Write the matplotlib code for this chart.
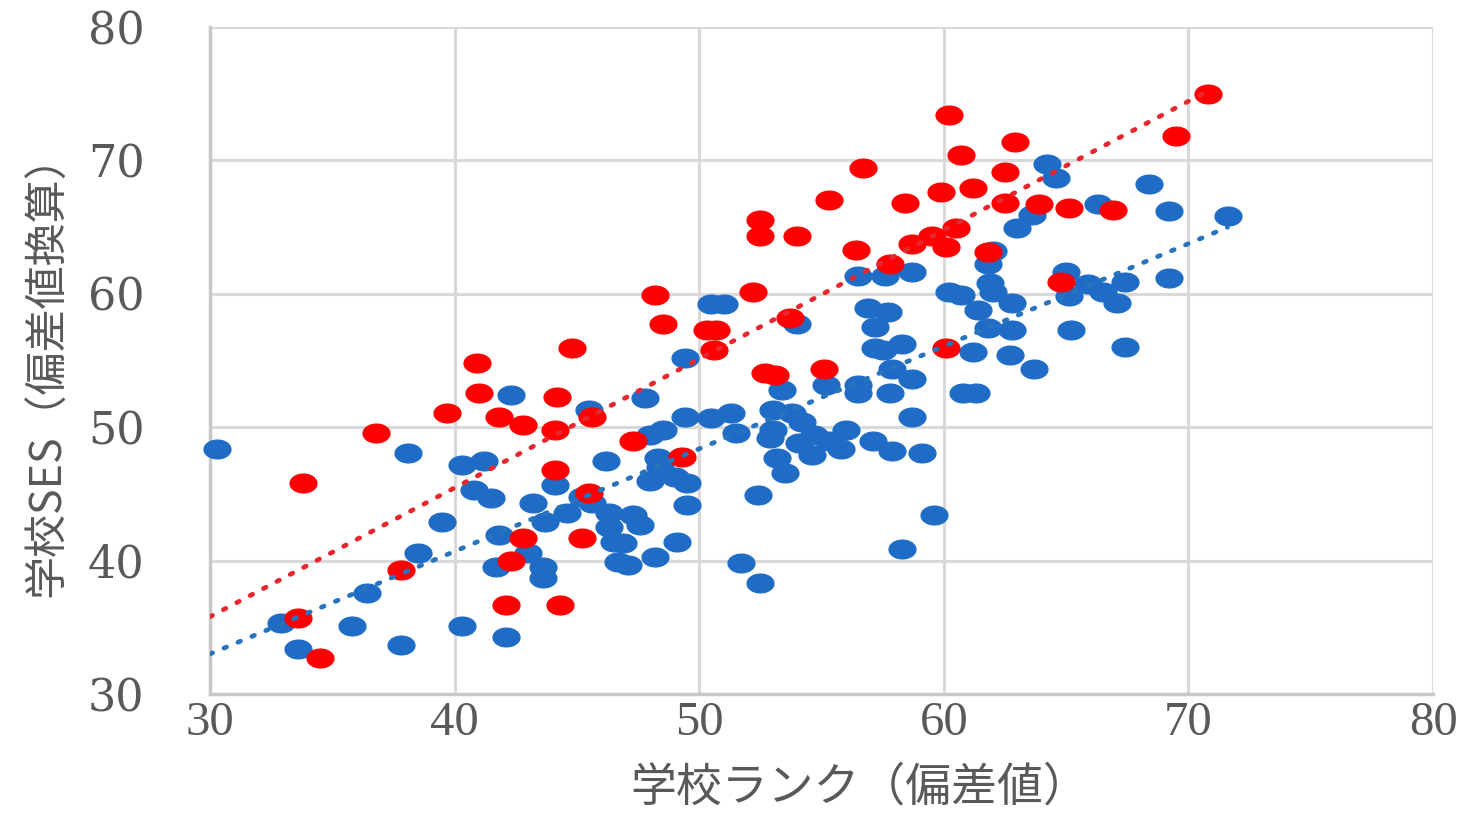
import numpy as np
import matplotlib
matplotlib.use("Agg")
import matplotlib.pyplot as plt
from matplotlib.path import Path

# ---- data ----
red_x = [70.8, 69.5, 60.2, 62.9, 60.7, 56.7, 62.5, 61.2, 59.9, 55.3, 58.4, 62.5, 63.9, 65.1, 66.9,
         60.5, 52.5, 52.5, 54.0, 56.4, 58.7, 59.5, 60.1, 61.8, 57.8, 64.8, 48.2, 52.2, 48.5, 50.3,
         50.7, 50.6, 53.7, 52.7, 53.1, 55.1, 60.1, 44.8, 40.9, 41.0, 44.2, 39.7, 41.8, 42.8, 45.6,
         44.1, 36.8, 47.3, 49.3, 44.1, 45.5, 42.8, 45.2, 42.3, 37.8, 33.8, 33.6, 34.5, 42.1, 44.3]
red_y = [75.0, 71.8, 73.4, 71.4, 70.4, 69.4, 69.1, 67.9, 67.6, 67.0, 66.8, 66.8, 66.7, 66.4, 66.3,
         64.9, 65.5, 64.3, 64.3, 63.3, 63.7, 64.3, 63.5, 63.1, 62.2, 60.9, 59.9, 60.1, 57.7, 57.3,
         57.3, 55.8, 58.2, 54.1, 53.9, 54.4, 55.9, 55.9, 54.8, 52.6, 52.3, 51.1, 50.8, 50.2, 50.8,
         49.8, 49.6, 49.0, 47.8, 46.8, 45.1, 41.7, 41.7, 40.0, 39.3, 45.8, 35.7, 32.7, 36.7, 36.7]

blue_x = [64.2, 64.6, 68.4, 69.2, 71.6, 66.3, 63.6, 63.0, 65.0, 65.9, 66.5, 67.4, 69.2, 65.1, 67.1,
          62.8, 65.2, 62.8, 67.4, 62.7, 63.7, 62.0, 61.8, 61.9, 62.0, 60.2, 60.7, 61.4, 61.8, 61.2,
          60.8, 61.3, 56.5, 57.6, 58.7, 56.9, 57.7, 57.2, 57.2, 57.5, 58.3, 57.9, 58.7, 56.5, 56.5,
          57.8, 58.7, 55.2, 53.4, 54.0, 50.5, 51.0, 49.4, 53.0, 53.8, 54.2, 53.0, 52.9, 54.7, 54.1,
          54.6, 53.2, 53.5, 55.3, 56.0, 55.8, 57.1, 57.9, 59.1, 52.4, 51.3, 50.5, 51.5, 49.4, 47.8,
          48.5, 48.0, 59.6, 58.3, 51.7, 52.5, 45.5, 42.3, 46.2, 48.3, 48.4, 49.0, 48.0, 49.5, 49.5,
          46.3, 47.3, 47.6, 46.3, 46.5, 46.9, 49.1, 48.2, 46.7, 47.1, 44.1, 45.2, 45.6, 44.6, 43.2,
          43.7, 40.8, 41.5, 40.3, 41.2, 39.5, 41.8, 43.0, 41.7, 43.6, 43.6, 38.1, 38.5, 30.3, 36.4,
          32.9, 33.6, 35.8, 37.8, 40.3, 42.1]
blue_y = [69.7, 68.7, 68.2, 66.2, 65.8, 66.7, 65.9, 64.9, 61.6, 60.7, 60.1, 60.9, 61.2, 59.8, 59.3,
          59.3, 57.3, 57.3, 56.0, 55.4, 54.4, 63.2, 62.2, 60.8, 60.1, 60.1, 59.9, 58.8, 57.4, 55.6,
          52.6, 52.6, 61.3, 61.3, 61.6, 58.9, 58.6, 57.5, 55.9, 55.8, 56.2, 54.4, 53.6, 53.2, 52.6,
          52.6, 50.8, 53.2, 52.8, 57.7, 59.2, 59.2, 55.2, 51.3, 51.1, 50.4, 49.8, 49.2, 49.4, 48.8,
          47.9, 47.7, 46.6, 49.0, 49.8, 48.4, 49.0, 48.2, 48.1, 44.9, 51.1, 50.7, 49.6, 50.8, 52.2,
          49.8, 49.4, 43.4, 40.9, 39.8, 38.3, 51.3, 52.4, 47.5, 47.7, 47.0, 46.3, 46.0, 45.8, 44.2,
          43.6, 43.4, 42.7, 42.5, 41.4, 41.3, 41.4, 40.3, 39.9, 39.7, 45.7, 44.8, 44.3, 43.6, 44.3,
          42.9, 45.3, 44.7, 47.2, 47.5, 42.9, 41.9, 40.6, 39.5, 39.5, 38.7, 48.1, 40.6, 48.4, 37.6,
          35.3, 33.4, 35.1, 33.7, 35.1, 34.3]

x_ticks = [30, 40, 50, 60, 70, 80]
y_ticks = [30, 40, 50, 60, 70, 80]
x_label = "学校ランク（偏差値）"
y_label = "学校SES（偏差値換算）"

RED = "#FF0000"
BLUE = "#1E6CC6"
RED_TREND = "#E8262E"
BLUE_TREND = "#2874BC"
TXT = "#595959"
GRID = "#D9D9D9"

# elliptical marker (wider than tall)
t = np.linspace(0, 2 * np.pi, 64)
ell = Path(np.column_stack([np.cos(t) * 1.0, np.sin(t) * 0.70]), closed=True)

fig = plt.figure(figsize=(14.62, 8.22), dpi=100)
ax = fig.add_axes([210 / 1462, 1 - 694 / 822, (1433 - 210) / 1462, (694 - 27) / 822])
ax.set_xlim(30, 80)
ax.set_ylim(30, 80)
ax.set_xticks(x_ticks)
ax.set_yticks(y_ticks)
ax.grid(True, color=GRID, linewidth=2.2, zorder=0)
ax.set_axisbelow(True)
for side in ["top", "right"]:
    ax.spines[side].set_visible(False)
for side in ["left", "bottom"]:
    ax.spines[side].set_color("#C8C8C8")
    ax.spines[side].set_linewidth(2.5)
ax.tick_params(length=0)
ax.tick_params(axis="y", pad=47)
ax.tick_params(axis="x", pad=5)
for lab in ax.get_yticklabels():
    lab.set_fontfamily("DejaVu Serif")
    lab.set_fontsize(32)
    lab.set_color(TXT)
for lab in ax.get_xticklabels():
    lab.set_fontfamily("Liberation Serif")
    lab.set_fontsize(35)
    lab.set_color(TXT)

ax.plot(blue_x, blue_y, linestyle="none", marker=ell, markersize=19.5,
        markerfacecolor=BLUE, markeredgecolor=BLUE, markeredgewidth=0.8, zorder=3, clip_on=False)
ax.plot(red_x, red_y, linestyle="none", marker=ell, markersize=19.5,
        markerfacecolor=RED, markeredgecolor=RED, markeredgewidth=0.8, zorder=4, clip_on=False)

# linear trend lines (least squares), drawn from the axis minimum to the data maximum
for xs, ys, col in [(blue_x, blue_y, BLUE_TREND), (red_x, red_y, RED_TREND)]:
    k, b = np.polyfit(xs, ys, 1)
    xx = np.array([30.0, max(xs)])
    ax.plot(xx, k * xx + b, color=col, linewidth=3.4, linestyle=(0, (0.6, 2.6)),
            dash_capstyle="round", zorder=5)

fig.text(860 / 1462, 1 - 787 / 822, x_label, ha="center", va="center",
         fontsize=33, color=TXT, family=["Noto Sans CJK JP", "DejaVu Sans"])
fig.text(48 / 1462, 1 - 365 / 822, y_label, ha="center", va="center", rotation=90,
         fontsize=31, color=TXT, family=["Noto Sans CJK JP", "DejaVu Sans"])

fig.savefig("out.png", dpi=100)
